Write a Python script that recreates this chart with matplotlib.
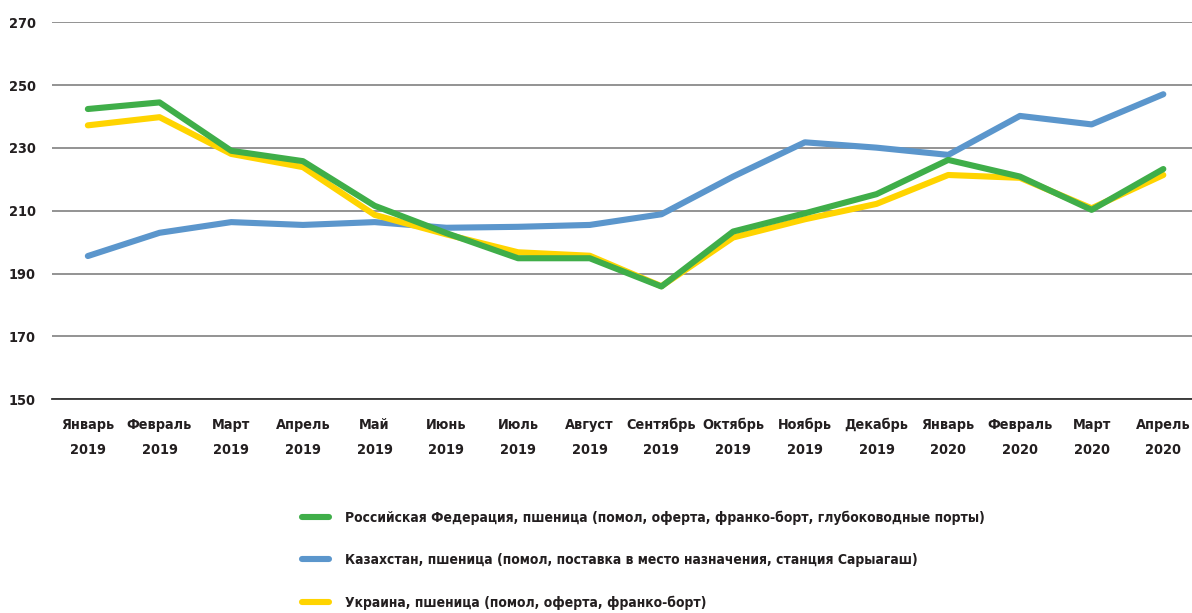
import matplotlib
matplotlib.use("Agg")
import matplotlib.pyplot as plt
from matplotlib import font_manager
from matplotlib.lines import Line2D

# look for a narrow / condensed bold face, the original uses a condensed font
narrow = None
for f in font_manager.fontManager.ttflist:
    if f.weight in (700, 'bold') and (f.stretch in ('condensed', 'semi-condensed', 'extra-condensed')
                                      or 'Narrow' in f.name or 'Condensed' in f.name):
        narrow = f
        break

if narrow is not None:
    plt.rcParams['font.family'] = [narrow.name, 'DejaVu Sans']
    plt.rcParams['font.stretch'] = narrow.stretch
    fs, fs_leg = 10.4, 10.0
else:
    plt.rcParams['font.family'] = ['DejaVu Sans']
    fs, fs_leg = 8.6, 8.3

months = ["Январь\n2019", "Февраль\n2019", "Март\n2019", "Апрель\n2019", "Май\n2019",
          "Июнь\n2019", "Июль\n2019", "Август\n2019", "Сентябрь\n2019", "Октябрь\n2019",
          "Ноябрь\n2019", "Декабрь\n2019", "Январь\n2020", "Февраль\n2020", "Март\n2020",
          "Апрель\n2020"]

russia = [242.4, 244.5, 229.1, 225.8, 211.6, 202.9, 194.9, 194.9, 185.9, 203.4,
          209.2, 215.3, 226.2, 220.9, 210.3, 223.3]
kazakhstan = [195.6, 203.0, 206.4, 205.5, 206.4, 204.6, 204.9, 205.5, 208.9, 220.9,
              231.8, 230.1, 227.8, 240.2, 237.5, 247.1]
ukraine = [237.2, 239.8, 228.1, 223.9, 208.7, 202.5, 196.8, 195.7, 186.0, 201.5,
           207.3, 212.2, 221.4, 220.5, 210.8, 221.4]

labels = ["Российская Федерация, пшеница (помол, оферта, франко-борт, глубоководные порты)",
          "Казахстан, пшеница (помол, поставка в место назначения, станция Сарыагаш)",
          "Украина, пшеница (помол, оферта, франко-борт)"]
colors = ["#3FAE49", "#5B96CC", "#FFD400"]

fig = plt.figure(figsize=(11.92, 6.13), dpi=100)
ax = fig.add_axes([52 / 1192, 1 - 399.3 / 613, 1 - 52 / 1192, (399.3 - 22.3) / 613])

x = range(len(months))
lw = 4.4
ax.plot(x, kazakhstan, color=colors[1], lw=lw, solid_capstyle='round', zorder=3)
ax.plot(x, ukraine, color=colors[2], lw=lw, solid_capstyle='round', zorder=4)
ax.plot(x, russia, color=colors[0], lw=lw, solid_capstyle='round', zorder=5)

ax.set_ylim(150, 270)
ax.set_yticks(range(150, 271, 20))
ax.set_xlim(-0.5, 15.4)
ax.set_xticks(list(x))
ax.set_xticklabels(months, linespacing=2.0)
ax.grid(axis='y', color='#8a8a8a', lw=1.3, zorder=1)
for s in ['top', 'right', 'left']:
    ax.spines[s].set_visible(False)
ax.spines['bottom'].set_color('#333333')
ax.spines['bottom'].set_linewidth(1.3)
ax.tick_params(length=0, labelsize=fs, colors='#231f20')
ax.tick_params(axis='y', pad=11.5)
ax.tick_params(axis='x', pad=13.5)
for t in ax.get_xticklabels() + ax.get_yticklabels():
    t.set_fontweight('bold')

handles = [Line2D([], [], color=c, lw=4.4, solid_capstyle='round') for c in colors]
fig.legend(handles, labels, loc='upper left', bbox_to_anchor=(289 / 1192, 1 - 498 / 613),
           frameon=False, prop={'size': fs_leg, 'weight': 'bold'}, labelspacing=2.05,
           handlelength=2.0, handletextpad=1.15, labelcolor='#231f20')

fig.savefig("out.png", dpi=100)
